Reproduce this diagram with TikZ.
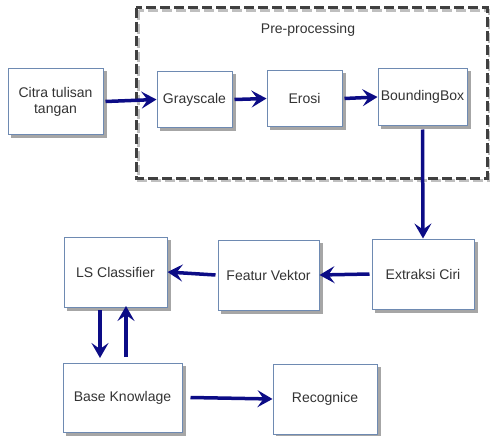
\documentclass[tikz,border=0pt]{standalone}
\usepackage{fontspec}
\setmainfont{Liberation Sans}
\usetikzlibrary{arrows.meta,backgrounds}
\definecolor{arrowblue}{HTML}{0C0C86}
\definecolor{boxedge}{HTML}{6E8AB2}
\definecolor{txt}{HTML}{333333}
\begin{document}
\begin{tikzpicture}[x=1pt,y=-1pt,
  box/.style={draw=boxedge,line width=1pt,fill=white,text=txt,align=center,
    font=\fontsize{14}{16}\selectfont,inner sep=0pt},
  shade/.style={fill=black!35},
  arr/.style={draw=arrowblue,line width=3.5pt,-{Stealth[length=15pt,width=17pt,inset=6pt]}}]
\useasboundingbox (0,0) rectangle (490,436);
% dashed group
\draw[line width=3pt,draw=black!25,dash pattern=on 10pt off 4pt]
  (138.5,10.5) rectangle (489,180.5);
\draw[line width=3pt,draw=black!75,dash pattern=on 10pt off 4pt]
  (136,8) rectangle (487,178);
\node[text=txt,font=\fontsize{14}{16}\selectfont] (pre) at (308,30) {Pre-processing};
% nodes
\node[box,minimum width=95pt,minimum height=65pt] (citra) at (55.5,101.5) {Citra tulisan\\tangan};
\node[box,minimum width=75pt,minimum height=55pt] (gray) at (194.5,99.5) {Grayscale};
\node[box,minimum width=75pt,minimum height=55pt] (erosi) at (304.5,98.5) {Erosi};
\node[box,minimum width=89pt,minimum height=56pt] (bbox) at (422.5,97) {BoundingBox};
\node[box,minimum width=102pt,minimum height=70pt] (ciri) at (423,274) {Extraksi Ciri};
\node[box,minimum width=101pt,minimum height=70pt] (fv) at (268.5,275) {Featur Vektor};
\node[box,minimum width=103pt,minimum height=70pt] (ls) at (115.5,272) {LS Classifier};
\node[box,minimum width=119pt,minimum height=69pt] (base) at (122.5,397.5) {Base Knowlage};
\node[box,minimum width=104pt,minimum height=70pt] (rec) at (325,399) {Recognice};
\begin{scope}[on background layer]
\foreach \n in {citra,gray,erosi,bbox,ciri,fv,ls,base,rec}{
  \fill[shade] ([shift={(3,3)}]\n.north west) rectangle ([shift={(3,3)}]\n.south east);
}
\end{scope}
% connectors
\draw[arr] (citra.east) ++(2,0) -- (gray.west);
\draw[arr] (gray.east) ++(2,0) -- (erosi.west);
\draw[arr] (erosi.east) ++(2,0) -- (bbox.west);
\draw[arr] (bbox.south) ++(0,4) -- (ciri.north);
\draw[arr] (ciri.west) ++(-2,0) -- (fv.east);
\draw[arr] (fv.west) ++(-2,0) -- (ls.east);
\coordinate (d1) at (100,310);
\coordinate (d2) at (100,358);
\coordinate (u1) at (126,357);
\coordinate (u2) at (126,306);
\draw[arr] (d1) -- (d2);
\draw[arr] (u1) -- (u2);
\draw[arr] (base.east) ++(8,0) -- (rec.west);
\end{tikzpicture}
\end{document}
